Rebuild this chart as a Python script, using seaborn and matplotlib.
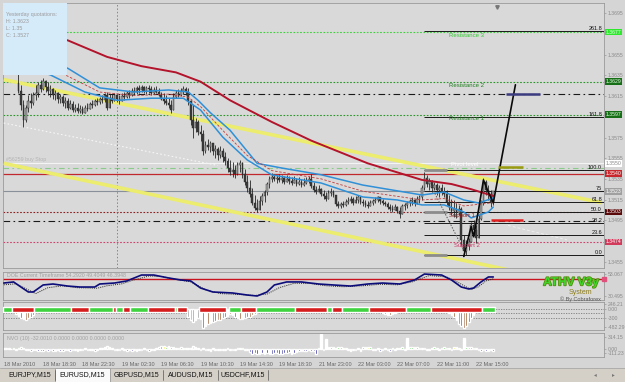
import numpy as np
import pandas as pd
import matplotlib
matplotlib.use("Agg")
import matplotlib.pyplot as plt
import matplotlib.patheffects as pe
from matplotlib.patches import Rectangle
import seaborn as sns

sns.set_theme(style="white")
plt.rcParams['font.family'] = ['Liberation Sans', 'DejaVu Sans']

BASE = 1.3500
PIP = 0.0001

# ---------------- EURUSD M15 candles (pips above 1.3500), bars 6..199 ----------------
first_bar = 6
first_open = 128
highs = [136,126,111,106,116,118,119,126,129,131,
         133,131,129,126,123,121,119,117,116,114,
         113,111,110,107,108,106,105,106,108,109,
         111,112,113,114,116,118,119,117,117,118,
         117,116,118,119,120,121,123,124,125,126,
         126,125,125,126,125,124,125,123,119,118,
         116,113,111,118,121,122,123,125,124,123,
         111,106,94,92,87,82,72,74,72,70,
         68,66,67,65,61,55,53,51,48,51,
         53,51,45,39,34,26,19,16,18,21,
         24,32,38,41,40,39,40,39,38,39,
         38,37,38,36,37,35,36,37,38,40,
         32,28,29,26,24,22,24,26,24,18,
         14,13,14,16,17,18,17,18,19,17,
         16,15,14,15,16,17,18,17,16,14,
         13,11,10,11,9,8,11,12,14,16,
         17,16,18,19,29,42,39,36,34,32,
         31,29,30,27,24,19,16,15,12,10,
         8,-19,-24,-22,-7,-5,-10,0,15,36,
         34,29,24,22]
lows = [118,102,85,90,100,104,106,111,114,119,
        121,119,116,114,112,111,108,108,105,104,
        102,103,100,100,99,99,98,100,101,103,
        104,105,106,107,108,109,102,106,108,110,
        109,107,110,111,113,113,115,116,117,118,
        119,118,117,118,116,117,118,115,111,107,
        106,104,99,108,113,114,115,117,116,106,
        87,75,80,77,72,58,60,63,61,58,
        55,53,55,51,48,42,39,37,36,39,
        42,36,29,22,17,10,5,3,7,10,
        13,19,26,32,33,31,32,31,30,32,
        30,29,31,28,29,27,28,30,31,26,
        22,20,22,18,16,14,16,18,17,9,
        7,7,8,9,11,12,10,13,12,11,
        9,8,7,9,10,12,13,11,10,9,
        6,4,3,5,2,-3,3,5,7,9,
        10,9,11,12,15,24,27,24,22,24,
        19,17,19,17,10,5,0,-2,-3,0,
        -29,-40,-39,-34,-26,-19,-27,-22,-5,10,
        19,15,8,10]
closes = [120,106,92,104,110,108,116,118,126,122,
          130,124,120,122,116,118,112,114,108,110,
          104,107,102,104,101,103,99,104,103,107,
          106,110,109,112,111,116,104,113,110,116,
          112,110,115,114,118,116,120,119,123,121,
          124,120,123,122,118,121,119,116,112,110,
          108,106,102,114,118,116,120,122,119,110,
          92,84,90,80,78,62,68,66,70,62,
          64,58,62,56,52,46,42,44,40,48,
          50,40,32,26,20,12,7,5,14,18,
          22,30,35,37,35,36,34,36,32,35,
          33,31,34,30,32,29,31,33,35,28,
          24,22,25,20,18,16,21,22,19,11,
          9,11,10,13,14,16,12,15,17,13,
          12,10,9,12,14,15,17,14,12,11,
          8,6,5,8,4,1,9,10,12,14,
          15,12,16,17,26,36,30,33,26,29,
          24,26,22,20,13,8,4,6,2,6,
          -24,-35,-30,-26,-10,-14,-22,-4,12,32,
          24,20,12,23]

# ---------------- moving averages (bar, pips) ----------------
ma_slow_bars = [0, 12, 26, 42, 56, 70, 80, 92, 109, 125, 148, 170, 182, 190, 199]
ma_slow = [182, 176, 169, 153, 144, 138, 129, 111, 90, 72, 50, 34, 30, 25, 18.5]
band_up_bars = [0, 26, 39, 53, 67, 75, 79, 84, 92, 103, 113, 129, 146, 170, 179, 187, 193, 199]
band_up = [165, 142, 123, 119, 121, 119, 111, 99, 82, 50, 45.5, 39, 29, 19.4, 22.3, 14.6, 11.7, 16.5]
band_lo_bars = [0, 19, 33, 46, 60, 73, 80, 89, 99, 109, 129, 146, 160, 170, 179, 187, 190, 197, 199]
band_lo = [150, 135.5, 119, 111, 113, 113, 101.6, 75.5, 53.3, 38.8, 31, 17.5, 14.6, 9.8, 9.8, 3, -2.8, 3, 7.8]
ma_mid_bars = [0, 24, 39, 53, 67, 75, 80, 89, 99, 109, 129, 146, 170, 179, 187, 199]
ma_mid = [157.5, 136.7, 119, 115.5, 117, 114, 105, 82, 57.6, 43, 35, 23, 14.6, 16, 8.8, 12]

# ---------------- drawn objects (bar, pips) ----------------
trend_up_bars, trend_up = [0, 243], [131, 12]
trend_lo_bars, trend_lo = [0, 215], [50, -58]
diag_white_bars, diag_white = [0, 87], [89, 48]
diag_grey_bars, diag_grey = [172, 187], [36, -34]
diag_light_bars, diag_light = [205, 229], [-10, -24]
proj_bars = [187, 190, 191, 193, 195, 197, 199, 208]
proj = [-40, -11, -21, 5, 34, 22, 12, 126]
vline_bar = 46

# horizontal levels (price)
level_names = ['R3', 'R2', 'DD1', 'R1', 'BS', 'PV', 'RED', 'BID', 'S1', 'DD2', 'S2']
level_prices = [1.3677, 1.3629, 1.3617, 1.3597, 1.3550, 1.3546, 1.3540, 1.3523, 1.3503, 1.3494, 1.3474]

# short marks
mark_start = [204, 201, 198]
mark_end = [218, 211, 211]
mark_price = [1.3617, 1.35465, 1.34953]

# fibonacci
fib_low, fib_high = 1.3461, 1.3544
fib_pcts = [0, 23.6, 38.2, 50, 61.8, 75, 100, 161.8, 261.8]
fib_labels = ['0.0', '23.6', '38.2', '50.0', '61.8', '75', '100.0', '161.8', '261.8']
fib_start = 171

# labels on the chart
zone_texts = ['Resistance 3', 'Resistance 2', 'Resistance 1', 'Pivot level', 'Support 1', 'Support 2']
zone_prices = [1.3677, 1.3629, 1.3597, 1.35485, 1.3503, 1.3474]
zone_bars = [181, 181, 181, 182, 181, 183]

# right axis (ticks hidden under the boxes are left out, as in the terminal)
price_ticks = [1.3455, 1.3495, 1.3515, 1.3535, 1.3555, 1.3575, 1.3615, 1.3635, 1.3655, 1.3695]
box_prices = [1.3677, 1.3629, 1.3597, 1.3550, 1.3540, 1.3523, 1.3503, 1.3474]

yest_lines = ['Yesterday quotations:', 'H: 1.3623', 'L: 1.35', 'C: 1.3527']

# ---------------- DOE oscillator ----------------
osc_bars = [0, 4, 7, 10, 12, 16, 20, 26, 31, 37, 39, 45, 50, 56, 61, 67, 72, 76, 80, 85, 93, 99, 103,
            107, 110, 115, 121, 128, 134, 141, 148, 154, 161, 167, 171, 178, 182, 186, 189, 191, 194, 197, 199]
osc = [43.8, 44.9, 39.7, 34.6, 34.6, 41.8, 42.8, 40.7, 39.7, 39.7, 42.8, 43.8, 45.9, 52.0, 52.0, 49.0,
       46.9, 45.9, 38.7, 34.6, 33.6, 31.5, 30.5, 34.6, 41.8, 44.9, 44.9, 42.8, 41.8, 40.7, 42.8, 43.8,
       42.8, 46.9, 53.0, 52.0, 46.9, 39.7, 37.7, 38.7, 44.9, 50.0, 50.0]
sig_bars = [0, 5, 9, 13, 18, 24, 30, 38, 42, 48, 53, 59, 64, 70, 76, 82, 88, 96, 102, 107, 112, 118,
            124, 131, 138, 146, 153, 160, 166, 173, 180, 185, 190, 193, 196, 199]
sig = [42, 43, 38, 33, 39, 41, 39, 38.5, 41, 43, 47, 51, 50.5, 47.5, 45, 37, 33, 32, 31, 32.5, 39,
       43.5, 43.5, 41, 40, 41, 42.5, 42, 45, 51.5, 50, 44, 37, 40, 46, 48]
osc_level = 47.9

# ---------------- trend histogram ----------------
strip_start = [0, 4, 13, 28, 35, 45, 46, 49, 52, 59, 70, 71, 80, 92, 97, 103, 119, 132, 134, 138, 149, 164, 174, 195]
strip_end = [4, 13, 28, 35, 45, 46, 49, 52, 59, 70, 71, 75, 91, 97, 103, 119, 132, 134, 138, 149, 164, 174, 195, 200]
strip_up = [1, 0, 1, 0, 1, 0, 1, 0, 1, 0, 1, 0, 0, 1, 0, 1, 0, 1, 0, 1, 0, 1, 0, 1]
hist = [0,0,0,0,-60,-120,-180,-230,-260,-280,
        -250,-200,-150,-80,0,0,0,0,0,0,
        0,0,0,0,0,0,0,0,-40,-60,
        -50,-70,-50,-40,-30,-20,0,0,0,0,
        0,0,0,0,0,-30,0,0,0,-20,
        -30,-20,0,0,0,0,0,0,0,-30,
        -20,-30,-40,-30,-20,-30,-20,-30,-20,-30,
        0,-20,-30,-20,0,-200,-300,-350,-300,-250,
        -270,-510,-450,-400,-380,-350,-320,-300,-280,-250,
        -220,-180,-120,-150,-200,-250,-270,-260,-240,-220,
        -200,-170,-130,-90,0,0,0,0,0,0,
        0,0,0,0,0,0,0,0,0,-40,
        -60,-50,-40,-30,-50,-60,-40,-30,-20,-30,
        -40,-20,0,0,-30,-20,0,0,0,0,
        0,0,0,0,0,0,0,0,0,-40,
        -60,-80,-60,-40,-100,-140,-160,-150,-120,-100,
        -80,-60,-40,-30,0,0,0,0,0,0,
        0,0,0,0,-30,-40,-50,-40,-30,-50,
        -70,-100,-150,-220,-300,-400,-450,-510,-450,-350,
        -250,-150,-80,-50,-30,0,0,0,0,0]
hist_grey = [75, 76, 77, 78, 79]
hist_yellow = [80]
hist_levels = [0, -107, -241]

# ---------------- NVO ----------------
nvo = [30,25,30,0,20,-20,25,40,30,-20,
       -30,-40,-35,-30,-40,-45,-40,-35,-40,-30,
       -45,-40,-35,-45,-40,-30,-35,-40,-30,-25,
       -40,-35,-30,20,-30,-25,-30,-40,-35,30,
       25,60,90,40,30,-30,-35,-25,30,-30,
       -40,-35,-45,-30,-40,-35,-30,25,-30,-40,
       -35,-25,30,40,70,90,60,80,50,40,
       30,35,40,30,25,35,30,70,40,30,
       -20,25,-30,-25,-40,20,-30,-25,-35,-30,
       -25,30,-30,-35,-25,25,30,20,-30,-25,
       -80,-120,-110,-130,-120,-100,-140,-110,-120,-130,
       -110,-100,-120,-130,-110,-100,-90,-120,-110,-80,
       -60,-50,-40,-60,-30,-50,-40,-120,30,400,
       -30,250,60,40,60,30,50,40,25,30,
       -30,-40,-35,-25,30,-40,60,50,60,40,
       -30,-35,30,-40,-30,25,-35,-40,30,-30,
       30,25,40,-30,280,40,60,50,40,30,
       35,25,-30,-25,30,40,30,-30,25,40,
       30,35,-25,60,40,30,-30,280,50,40,
       45,35,30,-30,-40,-35,-45,-40,-35,-40]
nvo_yellow = [42, 65, 67, 77, 132, 141, 148, 183]
nvo_white = [129, 131, 164, 187]

# ---------------- time axis & tabs ----------------
date_bars = [0, 16, 32, 48, 64, 80, 96, 112, 128, 144, 160, 176, 192]
date_labels = ['18 Mar 2010', '18 Mar 18:30', '18 Mar 22:30', '19 Mar 02:30', '19 Mar 06:30',
               '19 Mar 10:30', '19 Mar 14:30', '19 Mar 18:30', '21 Mar 23:00', '22 Mar 03:00',
               '22 Mar 07:00', '22 Mar 11:00', '22 Mar 15:00']
tab_names = ['EURJPY,M15', 'EURUSD,M15', 'GBPUSD,M15', 'AUDUSD,M15', 'USDCHF,M15']
active_tab = 1

# =====================================================================
W, H = 625, 382
BG = '#d9d9d9'
fig = plt.figure(figsize=(6.25, 3.82), dpi=100, facecolor='#d5d5d5')


def px_axes(top, bottom, left=3, right=604):
    return fig.add_axes([left / W, 1 - bottom / H, (right - left) / W, (bottom - top) / H])


XL = (-0.3, 244.0)
ax = px_axes(3, 268)
ax1 = px_axes(272, 300)
ax2 = px_axes(302, 330)
ax3 = px_axes(333, 357)
for a in (ax, ax1, ax2, ax3):
    a.set_facecolor(BG)
    a.set_xlim(XL)
    for s in a.spines.values():
        s.set_color('#9a9a9a')
        s.set_linewidth(0.6)
    a.yaxis.tick_right()
    a.tick_params(axis='y', labelsize=3.7, colors='#8a8a8a', length=1.5, pad=1, width=0.4)
    a.tick_params(axis='x', length=0)
    a.set_xticks([])


def P(v):
    return BASE + np.asarray(v, dtype=float) * PIP


# ---------- main chart ----------
ax.set_ylim(1.34488, 1.37051)
ax.set_yticks(price_ticks)
ax.set_yticklabels([f'{t:.4f}' for t in price_ticks])

lvl_style = {
    'R3': dict(color='#3ad13a', ls=(0, (1.5, 1.5)), lw=0.8),
    'R2': dict(color='#2a962a', ls=(0, (1.5, 1.5)), lw=0.8),
    'DD1': dict(color='#1a1a1a', ls=(0, (6, 3, 1.5, 3)), lw=0.8),
    'R1': dict(color='#2a962a', ls=(0, (1.5, 1.5)), lw=0.8),
    'BS': dict(color='#f4f4f4', ls='-', lw=0.8),
    'PV': dict(color='#8acb8a', ls=(0, (5, 3, 1.5, 3)), lw=0.8),
    'RED': dict(color='#c0282d', ls='-', lw=0.9),
    'BID': dict(color='#8a909a', ls='-', lw=0.8),
    'S1': dict(color='#8b1f1f', ls=(0, (1.5, 1.5)), lw=0.8),
    'DD2': dict(color='#1a1a1a', ls=(0, (6, 3, 1.5, 3)), lw=0.8),
    'S2': dict(color='#d0406a', ls=(0, (1.5, 1.5)), lw=0.8),
}
for name, price in zip(level_names, level_prices):
    ax.axhline(price, zorder=2, **lvl_style[name])

ax.axvline(vline_bar, color='#8f8f4a', ls=(0, (1.5, 2)), lw=0.7, zorder=2)

# trendlines
for bx, by in ((trend_up_bars, trend_up), (trend_lo_bars, trend_lo)):
    ax.plot(bx, P(by), color='#ecec6e', lw=2.6, zorder=3, solid_capstyle='butt')
ax.plot(diag_white_bars, P(diag_white), color='#f6f6f6', ls=(0, (1.5, 2)), lw=0.8, zorder=3)
ax.plot(diag_light_bars, P(diag_light), color='#eeeeee', ls=(0, (3, 2)), lw=0.7, zorder=3)

# fibonacci
fib_prices = [fib_low + (fib_high - fib_low) * p / 100 for p in fib_pcts]
for p, lab in zip(fib_prices, fib_labels):
    ax.hlines(p, fib_start, XL[1], color='#1a1a1a', lw=0.7, zorder=3)
    ax.text(XL[1] - 0.8, p, lab, fontsize=4, ha='right', va='bottom', color='#111', zorder=9)
for pct in (0, 50, 100):
    p = fib_low + (fib_high - fib_low) * pct / 100
    ax.hlines(p, fib_start, fib_start + 9, color='#8c8c8c', lw=2.0, zorder=3)

# candles
xb = np.arange(first_bar, first_bar + len(closes))
c = P(closes)
o = P([first_open] + closes[:-1])
h = np.maximum(P(highs), np.maximum(o, c))
l = np.minimum(P(lows), np.minimum(o, c))
ax.vlines(xb, l, h, color='#262626', lw=0.6, zorder=4)
up = c >= o
ax.bar(xb[up], (c - o)[up], bottom=o[up], width=0.7, color='#a6a6a6', edgecolor='#262626', linewidth=0.3, zorder=5)
ax.bar(xb[~up], (c - o)[~up], bottom=o[~up], width=0.7, color='#3c3c3c', edgecolor='#262626', linewidth=0.3, zorder=5)

# moving averages
sns.lineplot(x=ma_slow_bars, y=P(ma_slow), ax=ax, color='#b3132b', lw=1.4, zorder=6, estimator=None)
sns.lineplot(x=band_up_bars, y=P(band_up), ax=ax, color='#2f90d8', lw=1.1, zorder=6, estimator=None)
sns.lineplot(x=band_lo_bars, y=P(band_lo), ax=ax, color='#2f90d8', lw=1.1, zorder=6, estimator=None)
ax.plot(ma_mid_bars, P(ma_mid), color='#c23a3a', lw=0.6, ls=(0, (3, 2)), zorder=6)

# drawn pattern
ax.plot(diag_grey_bars, P(diag_grey), color='#555555', ls=(0, (1.5, 1.5)), lw=0.7, zorder=6)
sns.lineplot(x=proj_bars, y=P(proj), ax=ax, color='#0a0a0a', lw=1.2, zorder=7, estimator=None, sort=False)
mark_colors = ['#3b3b80', '#9a9a10', '#e02020']
for s, e, p, col in zip(mark_start, mark_end, mark_price, mark_colors):
    ax.hlines(p, s, e, color=col, lw=1.8, zorder=7)

# zone texts
zone_style = [('#34c934', 'top'), ('#1f7d1f', 'top'), ('#1f7d1f', 'top'),
              ('#ffffff', 'center'), ('#8b1f1f', 'top'), ('#cc3a66', 'top')]
for t, p, b, (col, va) in zip(zone_texts, zone_prices, zone_bars, zone_style):
    ax.text(b, p - (0.00012 if va == 'top' else 0), t, fontsize=4.3, color=col, ha='left', va=va, zorder=8)
ax.text(1, 1.3551, '#56259 buy Stop', fontsize=3.8, color='#b4b4b4', ha='left', va='bottom', zorder=3)

# yesterday quotations box
ax.add_patch(Rectangle((0, 1 - 72 / 265), 64 / 601, 72 / 265, transform=ax.transAxes,
                       facecolor='#d6ebfa', edgecolor='none', zorder=7))
for k, t in enumerate(yest_lines):
    ax.text(3 / 601, 1 - (12 + 7 * k) / 265, t, transform=ax.transAxes, fontsize=3.8,
            color='#9a9a9a', ha='left', va='center', zorder=8)

# shift marker
ax.plot([200.5], [0.985], transform=ax.get_xaxis_transform(), marker='v', ms=2.5, color='#777', zorder=9)

# price boxes
box_fc = ['#2ee82e', '#166e16', '#166e16', '#ffffff', '#c8282d', '#a0a0a0', '#5a0a0a', '#d23a5c']
box_tc = ['#e8ffe8', '#e8ffe8', '#e8ffe8', '#888888', '#ffffff', '#ffffff', '#ffffff', '#ffffff']
for p, fc, tc in zip(box_prices, box_fc, box_tc):
    ax.annotate(f'{p:.4f}', xy=(1, p), xycoords=('axes fraction', 'data'), xytext=(1.0, 0),
                textcoords='offset points', fontsize=3.7, color=tc, va='center', ha='left',
                bbox=dict(boxstyle='square,pad=0.15', fc=fc, ec='none'), annotation_clip=False, zorder=10)

# ---------- panel 1: DOE ----------
ax1.set_ylim(26.4, 55.1)
ax1.set_yticks([53.067, 30.495])
ax1.set_yticklabels(['53.067', '30.495'])
ax1.axhline(osc_level, color='#c8141e', lw=1.0, zorder=2)
ax1.plot(sig_bars, sig, color='#222', lw=0.7, ls=(0, (1, 1.2)), zorder=3)
sns.lineplot(x=osc_bars, y=osc, ax=ax1, color='#0c0c7a', lw=1.2, zorder=4, estimator=None)
ax1.set_xlim(XL)
ax1.text(0.006, 0.86, 'DOE Current Timeframe 54.2920 49.4049 46.3948', transform=ax1.transAxes,
         fontsize=3.8, color='#a0a0a0', ha='left', va='center')
ax1.text(230.5, 44.5, 'ATHV V3y', fontsize=8.5, fontweight='bold', color='#3fd82a', ha='center',
         va='center', zorder=6, path_effects=[pe.withStroke(linewidth=1.2, foreground='#5a8a10')])
ax1.text(234.5, 34.6, 'System', fontsize=5, color='#8d7d1c', ha='center', va='center', zorder=6)
ax1.text(234.5, 27.6, '© By Cobraforex', fontsize=4, color='#555', ha='center', va='center', zorder=6)
ax1.plot([XL[1]], [osc_level], marker='s', ms=3, color='#e0507a', clip_on=False, zorder=7)
ax1.set_ylabel('')

# ---------- panel 2: histogram ----------
ax2.set_ylim(-560, 190)
ax2.set_yticks([136, 0, -241, -482.29])
ax2.set_yticklabels(['246.21', '0.00', '-300', '-482.29'])
for lv in hist_levels:
    ax2.axhline(lv, color='#7a7a7a', lw=0.6, ls=(0, (1.5, 1.5)), zorder=1)
hx = np.arange(len(hist))
hcol = ['#8b4a1c'] * len(hist)
for i in hist_grey:
    hcol[i] = '#909090'
for i in hist_yellow:
    hcol[i] = '#f0e040'
ax2.bar(hx, hist, width=0.7, color=hcol, zorder=2)
for s, e, u in zip(strip_start, strip_end, strip_up):
    ax2.bar((s + e) / 2 - 0.5, 135, bottom=-75, width=e - s, color='#3fd33f' if u else '#d61d1d', zorder=3)
ax2.set_xlim(XL)

# ---------- panel 3: NVO ----------
ax3.set_ylim(-209.6, 419)
ax3.set_yticks([314.15, 0, -111.23])
ax3.set_yticklabels(['314.15', '0.00', '-111.23'])
nx = np.arange(len(nvo))
ncol = ['#27c427' if v > 0 else '#101090' for v in nvo]
for i in nvo_yellow:
    ncol[i] = '#f2ee3a'
for i in nvo_white:
    ncol[i] = '#ffffff'
ax3.bar(nx, nvo, width=0.7, color=ncol, zorder=2)
ax3.text(0.006, 0.78, 'NVO (10) -32.0010 0.0000 0.0000 0.0000 0.0000', transform=ax3.transAxes,
         fontsize=3.8, color='#a0a0a0', ha='left', va='center')
ax3.set_xlim(XL)
ax3.set_xticks(date_bars)
ax3.set_xticklabels(date_labels, fontsize=4, color='#666')
for lab in ax3.get_xticklabels():
    lab.set_ha('left')
ax3.tick_params(axis='x', length=2, pad=1.5, colors='#666', width=0.4)

# ---------- tab bar ----------
fig.patches.append(Rectangle((0, 0), 1, 14 / H, transform=fig.transFigure, facecolor='#d4d0c8',
                             edgecolor='none', zorder=0))
fig.lines.append(plt.Line2D([0, 1], [14 / H, 14 / H], transform=fig.transFigure, color='#a8a8a8', lw=0.6))
tab_x = [4, 55, 110, 163, 218, 268]
for k, name in enumerate(tab_names):
    x0, x1 = tab_x[k], tab_x[k + 1]
    if k == active_tab:
        fig.patches.append(Rectangle((x0 / W, 0), (x1 - x0) / W, 14 / H, transform=fig.transFigure,
                                     facecolor='#fafafa', edgecolor='#8a8a8a', lw=0.5, zorder=1))
    else:
        fig.lines.append(plt.Line2D([x1 / W, x1 / W], [2 / H, 12 / H], transform=fig.transFigure,
                                    color='#555', lw=0.5))
    fig.text((x0 + x1) / 2 / W, 7 / H, name, fontsize=5, ha='center', va='center', color='#111', zorder=3)
fig.text(595 / W, 7 / H, '◂', fontsize=4, color='#777', ha='center', va='center')
fig.text(613 / W, 7 / H, '▸', fontsize=4, color='#777', ha='center', va='center')

fig.savefig('out.png', dpi=100, facecolor=fig.get_facecolor())
